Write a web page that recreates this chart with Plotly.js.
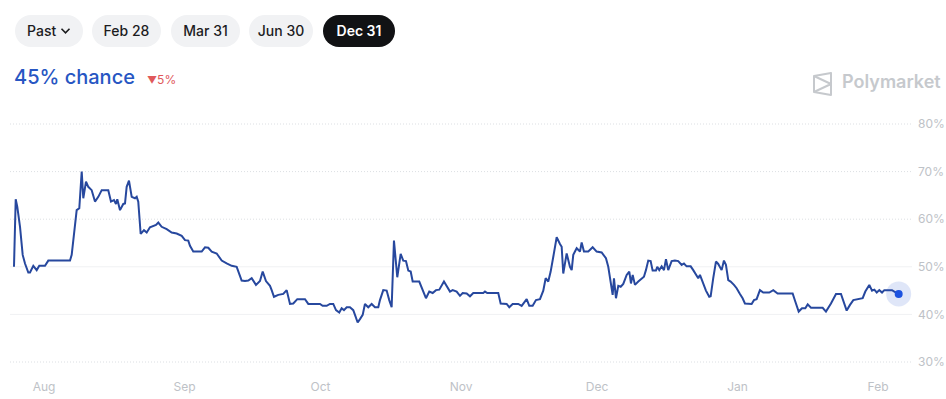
<!DOCTYPE html>
<html>
<head>
<meta charset="utf-8">
<script src="https://cdn.plot.ly/plotly-3.0.1.min.js"></script>
<style>
  html, body { margin: 0; padding: 0; background: #fff; width: 946px; height: 399px; overflow: hidden; font-family: Inter, "Open Sans", sans-serif; }
  #chart { position: absolute; left: 0; top: 0; width: 946px; height: 399px; }
  .btn { position: absolute; top: 15px; height: 32px; line-height: 32px; border-radius: 16px; background: #f1f2f4; color: #1c1c1e; font-size: 14px; font-weight: 500; text-align: center; }
  .btn.active { background: #111214; color: #fff; font-weight: 600; }
  #title { position: absolute; left: 14px; top: 65px; font-size: 20px; font-weight: 500; color: #2756c3; }
  #delta { position: absolute; left: 147px; top: 72px; font-size: 12px; color: #e0595b; }
  #logo { position: absolute; left: 812px; top: 71px; font-size: 18px; font-weight: 600; color: #c6c9cd; }
  #logo span { position: absolute; left: 30px; top: 0; white-space: nowrap; }
</style>
</head>
<body>
<div id="chart"></div>
<div class="btn" style="left:15px;width:68px;">Past <svg width="11" height="8" viewBox="0 0 11 8" style="vertical-align:1px"><path d="M1.5 1.8 L5.5 5.8 L9.5 1.8" fill="none" stroke="#1c1c1e" stroke-width="1.6"/></svg></div>
<div class="btn" style="left:92px;width:69px;">Feb 28</div>
<div class="btn" style="left:171px;width:69px;">Mar 31</div>
<div class="btn" style="left:249px;width:64px;">Jun 30</div>
<div class="btn active" style="left:323px;width:72px;">Dec 31</div>
<div id="title">45% chance</div>
<div id="delta"><span style="font-size:10px">&#9660;</span>5%</div>
<div id="logo">
  <svg width="21" height="24" viewBox="0 0 21 24" style="position:absolute;left:0;top:1px">
    <path d="M2 4 L19 1 L19 23 L2 20 Z" fill="none" stroke="#c6c9cd" stroke-width="2" stroke-linejoin="round"/>
    <path d="M2 4 L19 12 L2 20" fill="none" stroke="#c6c9cd" stroke-width="2" stroke-linejoin="round"/>
  </svg>
  <span>Polymarket</span>
</div>
<script>
// Days relative to Aug 1 (2025), and chance in %
const days = [
  -6.62,-6.24,-5.89,-5.29,-4.70,-4.19,-3.46,-3.09,-2.36,-1.61,-1.04,0.22,0.95,5.74,6.11,6.62,7.21,7.79,8.32,8.67,
  9.27,9.77,10.52,11.25,11.98,12.73,14.18,14.78,15.44,15.88,16.17,16.77,17.49,17.87,18.24,18.75,19.35,20.08,20.45,20.80,
  21.33,22.06,22.66,23.38,24.11,24.71,25.22,25.96,27.07,28.17,29.27,30.38,31.11,31.83,32.21,32.93,34.79,35.52,36.25,37.00,
  38.10,39.20,40.30,41.41,42.51,43.61,44.34,45.07,45.82,46.77,47.65,48.25,48.97,49.86,50.23,50.74,51.69,52.79,53.54,54.27,
  55.00,55.88,57.58,58.31,60.89,61.48,62.37,63.09,63.82,64.42,65.14,65.67,66.18,66.78,67.50,68.23,68.61,69.20,69.71,70.31,
  70.81,71.54,72.29,73.02,73.75,74.12,74.85,75.60,76.17,76.70,77.21,77.94,78.69,79.26,79.86,80.37,80.90,81.34,82.79,83.54,
  84.27,85.00,85.75,86.48,87.21,88.24,88.84,89.57,90.16,91.04,91.77,92.37,93.25,93.98,94.71,96.91,97.29,97.79,100.22,100.75,
  102.07,102.65,103.40,104.63,105.38,106.49,107.06,107.81,108.54,109.42,110.15,110.68,111.25,111.78,112.36,113.11,113.83,114.21,114.56,115.31,
  116.04,116.42,116.77,117.52,118.25,118.62,119.13,120.08,121.05,121.93,123.03,123.98,124.49,125.02,125.46,125.75,126.19,126.70,127.23,127.80,
  128.55,129.13,129.50,129.88,130.38,131.11,131.86,132.36,132.80,133.31,133.84,134.28,135.01,135.30,135.74,136.27,136.78,137.22,137.72,138.47,
  139.20,139.93,140.68,141.19,141.78,142.67,143.24,143.84,144.34,144.72,145.31,146.04,146.77,147.08,147.65,148.25,148.75,149.50,150.01,150.45,
  150.96,151.49,152.22,152.81,153.54,154.13,154.64,156.12,156.63,157.22,157.95,158.68,160.01,160.89,161.86,165.17,165.75,166.50,167.23,167.96,
  168.49,169.21,171.79,172.52,173.62,174.73,175.83,176.34,177.09,177.82,178.55,180.62,181.20,182.08,182.68,183.19,183.72,184.29,184.89,185.39,
  186.14,187.09,187.60,188.56
];
const chance = [
  50.0,64.2,62.6,58.4,52.5,50.7,48.8,48.8,50.2,49.3,50.2,50.2,51.3,51.3,52.5,56.3,61.9,62.3,70.0,64.4,
  67.9,66.8,66.1,63.7,64.7,66.1,66.1,63.7,64.0,63.2,64.2,61.9,63.2,63.3,66.8,68.1,64.7,64.4,64.7,63.7,
  56.9,57.7,57.2,58.3,58.6,58.8,59.3,58.4,57.9,57.2,57.0,56.5,55.6,55.5,54.4,53.2,53.2,54.1,54.0,53.2,
  52.8,51.3,50.7,50.2,50.0,47.1,47.0,47.1,47.6,46.2,47.0,49.0,47.0,46.0,45.1,43.7,44.1,44.3,45.1,42.2,
  42.3,43.2,43.2,42.2,42.2,41.8,41.8,42.2,42.2,40.9,40.4,41.3,40.9,41.5,41.5,40.9,39.9,38.3,39.0,39.9,
  42.2,41.5,42.2,41.5,41.5,43.0,45.1,45.0,43.0,41.5,55.5,47.8,52.7,51.3,51.2,49.2,49.0,46.9,46.9,45.1,
  43.4,44.8,44.5,45.1,45.2,46.9,45.8,44.8,45.1,44.8,43.9,44.5,44.4,43.8,44.5,44.5,44.8,44.5,44.5,42.3,
  42.2,41.5,42.2,42.2,41.8,43.2,41.8,41.8,43.0,43.2,45.0,47.6,46.9,49.0,52.1,56.2,54.8,54.2,48.6,52.8,
  50.0,49.3,52.5,53.9,53.2,55.1,53.2,53.2,54.1,53.2,53.0,51.8,50.0,46.2,44.1,47.6,43.4,46.0,45.8,46.4,
  48.3,49.0,46.5,48.3,46.2,46.9,47.6,47.9,49.3,51.3,51.2,49.2,49.2,50.0,49.3,50.1,49.3,51.6,49.3,51.2,
  51.3,51.2,50.4,50.7,50.1,50.1,49.3,48.3,47.6,48.3,46.9,45.0,43.7,43.8,47.6,51.1,50.6,49.3,51.3,50.4,
  47.2,46.9,46.2,45.5,44.3,43.4,42.3,42.2,43.0,43.2,45.1,44.6,44.6,45.1,44.4,44.4,42.7,40.6,41.3,41.3,
  42.1,41.4,41.4,40.6,42.3,44.3,44.3,43.0,40.8,42.0,43.0,43.4,44.8,46.2,45.0,45.2,44.6,45.1,44.6,45.1,
  45.1,45.1,44.8,44.3
];
const monthTicks = ["2025-08-01","2025-09-01","2025-10-01","2025-11-01","2025-12-01","2026-01-01","2026-02-01"];
const monthLabels = ["Aug","Sep","Oct","Nov","Dec","Jan","Feb"];
const yTicks = [30,40,50,60,70,80];
const dottedLevels = [30,60,70,80];
const solidLevels = [40,50];

const base = Date.UTC(2025,7,1);
const toDate = d => new Date(base + d*864e5).toISOString().replace('T',' ').slice(0,19);
const xs = days.map(toDate);
const lastX = xs[xs.length-1], lastY = chance[chance.length-1];

const shapes = [];
dottedLevels.forEach(v => shapes.push({type:'line', xref:'paper', x0:0, x1:1, yref:'y', y0:v, y1:v, layer:'below', line:{color:'#dcdfe3', width:1, dash:'1px,2px'}}));
solidLevels.forEach(v => shapes.push({type:'line', xref:'paper', x0:0, x1:1, yref:'y', y0:v, y1:v, layer:'below', line:{color:'#f0f1f3', width:1}}));

const traces = [
  {x: xs, y: chance, type:'scatter', mode:'lines', line:{color:'#27489e', width:2, shape:'linear'}, hoverinfo:'skip'},
  {x: [lastX], y: [lastY], type:'scatter', mode:'markers', marker:{size:25, color:'rgba(39,86,210,0.15)'}, hoverinfo:'skip'},
  {x: [lastX], y: [lastY], type:'scatter', mode:'markers', marker:{size:8, color:'#1d53e0'}, hoverinfo:'skip'}
];

const layout = {
  width: 946, height: 399,
  margin: {l:10, r:34, t:114, b:27},
  paper_bgcolor:'rgba(0,0,0,0)', plot_bgcolor:'rgba(0,0,0,0)',
  showlegend:false,
  shapes: shapes,
  xaxis: {
    type:'date', range:[toDate(-7.5), toDate(191.5)],
    tickvals: monthTicks, ticktext: monthLabels,
    showgrid:false, zeroline:false, showline:false, ticks:'',
    ticklabelstandoff: 6,
    tickfont:{family:'Inter, sans-serif', size:12, color:'#bec2c7'}
  },
  yaxis: {
    side:'right', range:[27.9, 82.1],
    tickvals: yTicks, ticktext: yTicks.map(v => v + '%'),
    showgrid:false, zeroline:false, showline:false, ticks:'',
    ticklabelstandoff: 5,
    tickfont:{family:'Inter, sans-serif', size:12, color:'#bec2c7'}
  }
};
Plotly.newPlot('chart', traces, layout, {displayModeBar:false, staticPlot:true});
</script>
</body>
</html>
